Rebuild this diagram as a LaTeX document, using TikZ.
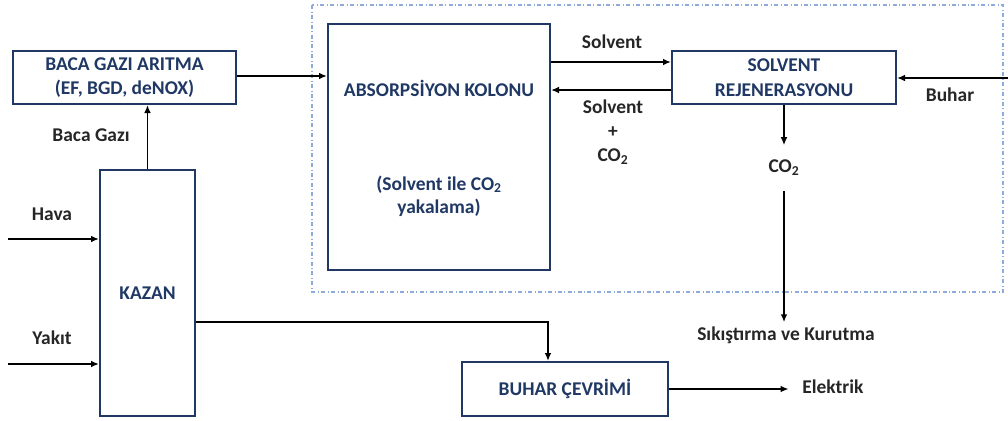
\documentclass[tikz,border=0pt]{standalone}
\usepackage{fontspec}
\setmainfont{Carlito}[BoldFont=Carlito Bold]
\usetikzlibrary{arrows.meta}
\definecolor{boxblue}{HTML}{203864}
\definecolor{frameblue}{HTML}{8FAADC}
\definecolor{labelgray}{HTML}{262626}
\tikzset{
  unitbox/.style={draw=boxblue, line width=1.5pt, fill=white, text=boxblue,
    font=\bfseries\fontsize{14.6}{18.5}\selectfont, align=center, inner sep=0pt},
  boxtext/.style={text=boxblue, font=\bfseries\fontsize{14.6}{17.5}\selectfont, align=center, inner sep=0pt},
  flowlabel/.style={text=labelgray, font=\bfseries\fontsize{14.6}{18}\selectfont, align=center, inner sep=0pt},
  flow/.style={-{Latex[length=6pt,width=5pt]}, line width=1.2pt},
}
\begin{document}
\begin{tikzpicture}[x=0.75pt,y=-0.75pt]
\useasboundingbox (0,0) rectangle (1008,421);
% capture area
\draw[frameblue, dash dot, line width=0.8pt] (312,5) rectangle (1003,292);
% units
\node[unitbox, minimum width=223*0.75pt, minimum height=53*0.75pt] (baca) at (124.5,77.5) {BACA GAZI ARITMA\\(EF, BGD, deNOX)};
\node[unitbox, minimum width=95*0.75pt, minimum height=246*0.75pt] (kazan) at (147.5,293) {KAZAN};
\node[unitbox, minimum width=222*0.75pt, minimum height=246*0.75pt] (absorb) at (439,147) {};
\node[boxtext] (absorbtitle) at (439,88) {ABSORPSİYON KOLONU};
\node[boxtext] (absorbnote) at (439,196) {(Solvent ile CO\textsubscript{2}\\yakalama)};
\node[unitbox, minimum width=224*0.75pt, minimum height=53*0.75pt] (solrej) at (784,77.5) {SOLVENT\\REJENERASYONU};
\node[unitbox, minimum width=206*0.75pt, minimum height=54*0.75pt] (buhar) at (565,389) {BUHAR ÇEVRİMİ};
% stream labels
\node[flowlabel] (bacagazi) at (91,135) {Baca Gazı};
\node[flowlabel] (hava) at (52,214) {Hava};
\node[flowlabel] (yakit) at (52,338) {Yakıt};
\node[flowlabel] (solvent) at (612,42) {Solvent};
\node[flowlabel] (solventco) at (613,132) {Solvent\\+\\CO\textsubscript{2}};
\node[flowlabel] (buharlabel) at (950,95) {Buhar};
\node[flowlabel, inner ysep=11pt] (co2) at (784,168) {CO\textsubscript{2}};
\node[flowlabel, inner ysep=3pt] (sikistirma) at (786,335) {Sıkıştırma ve Kurutma};
\node[flowlabel, anchor=west] (elektrik) at (802,387) {Elektrik};
\coordinate (havain) at (8,239);
\coordinate (yakitin) at (8,364);
\coordinate (buharin) at (1008,78);
% streams
\draw[flow] (kazan.north) -- (kazan.north |- baca.south);
\draw[flow] (havain) -- (havain -| kazan.west);
\draw[flow] (yakitin) -- (yakitin -| kazan.west);
\draw[flow] (baca.east |- 0,76) -- (absorb.west |- 0,76);
\draw[flow] (absorb.east |- 0,62) -- (solrej.west |- 0,62);
\draw[flow] (solrej.west |- 0,90) -- (absorb.east |- 0,90);
\draw[flow] (buharin) -- (buharin -| solrej.east);
\draw[flow] (solrej.south) -- (co2.north);
\draw[flow] (co2.south) -- (co2.south |- sikistirma.north);
\draw[flow] (kazan.east |- 0,322) -| (548,0 |- buhar.north);
\draw[flow, shorten >=10pt] (buhar.east) -- (buhar.east -| elektrik.west);
\end{tikzpicture}
\end{document}
